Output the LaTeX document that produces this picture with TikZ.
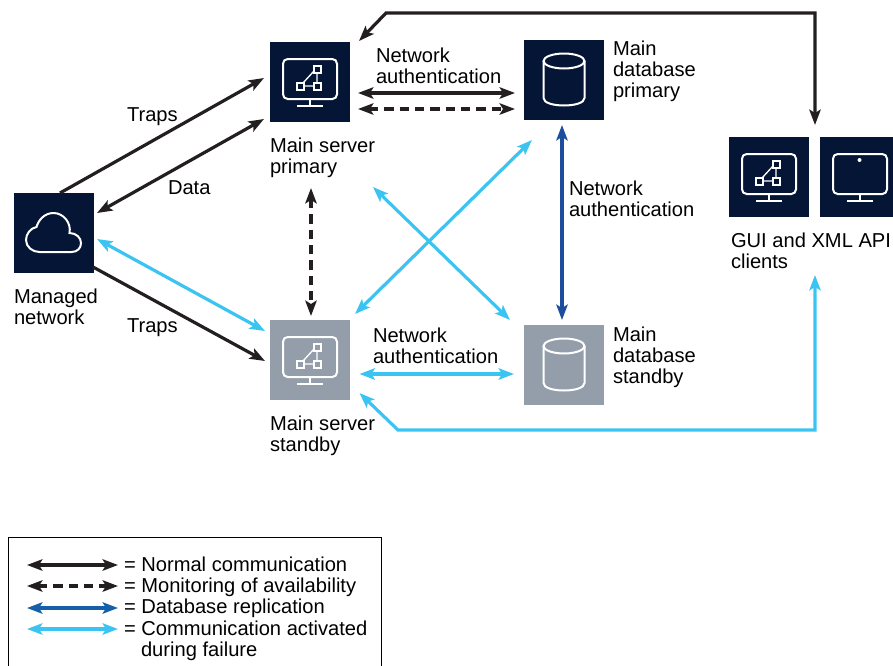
\documentclass[tikz,border=0pt]{standalone}
\usepackage{fontspec}
\setmainfont{Liberation Sans}
\usetikzlibrary{arrows.meta}
\definecolor{navy}{HTML}{051535}
\definecolor{slate}{HTML}{939EAA}
\definecolor{inkblack}{HTML}{231F20}
\definecolor{skyblue}{HTML}{3BC4F2}
\definecolor{deepblue}{HTML}{1D4E9E}
\definecolor{keyblue}{HTML}{1560A8}
\tikzset{
	box/.style={fill=navy, minimum size=60pt, inner sep=0pt, outer sep=0pt},
	boxgray/.style={box, fill=slate},
	lbl/.style={anchor=north west, inner sep=0pt, outer sep=0pt, align=left, text=black, font=\fontsize{15.1}{15.75}\selectfont},
	link/.style={line width=2.4pt, {Stealth[length=11.5pt,width=8.5pt,inset=2.5pt]}-{Stealth[length=11.5pt,width=8.5pt,inset=2.5pt]}},
	onelink/.style={line width=2.4pt, -{Stealth[length=11.5pt,width=8.5pt,inset=2.5pt]}},
	normal/.style={link, draw=inkblack},
	monitoring/.style={link, draw=inkblack, dash pattern=on 7pt off 4.5pt},
	replication/.style={link, draw=deepblue},
	failure/.style={link, draw=skyblue},
	icon/.style={draw=white, line width=1.5pt},
}
\def\monitor(#1){\begin{scope}[shift={(#1)}]
	\draw[icon, rounded corners=3.5pt] (-27,-23) rectangle (27,17);
	\draw[icon] (0,17) -- (0,24);
	\draw[icon] (-13,24) -- (13,24);
\end{scope}}
\def\graphglyph(#1){\begin{scope}[shift={(#1)}]
	\draw[icon, line width=1pt] (-6,4) -- (4,4) (-7,1) -- (4,-11) (7,1) -- (7,-9);
	\draw[icon] (-13,1) rectangle (-6,8);
	\draw[icon] (4,1) rectangle (11,8);
	\draw[icon] (4,-16) rectangle (11,-9);
\end{scope}}
\def\cylinder(#1){\begin{scope}[shift={(#1)}]
	\draw[icon] (-20.5,-19) -- (-20.5,18) .. controls (-20.5,28) and (20.5,28) .. (20.5,18) -- (20.5,-19);
	\draw[icon] (0,-19) ellipse (20.5 and 7.5);
\end{scope}}
\begin{document}
\begin{tikzpicture}[x=0.75pt, y=-0.75pt]
	%%%%% START %%%%%
	\useasboundingbox (0,0) rectangle (893,665);
	
	\node[box] (srvA) at (310,82) {};
	\node[box] (dbA) at (564,80) {};
	\node[box] (cloud) at (53.5,233) {};
	\node[boxgray] (srvB) at (310,360) {};
	\node[boxgray] (dbB) at (564,365) {};
	\node[box] (gui) at (769,177) {};
	\node[box, minimum width=54.75pt] (api) at (856.5,177) {};
	
	\monitor(310,82);
	\graphglyph(310,82);
	\monitor(310,360);
	\graphglyph(310,360);
	\monitor(769,177);
	\graphglyph(769,177);
	\monitor(860,177);
	\fill[white] (859.5,160) circle (2);
	\cylinder(564,80);
	\cylinder(564,365);
	\draw[icon] (39.5,252) -- (71.5,252) .. controls (77.5,252) and (81,248) .. (81,243) .. controls (81,238) and (76.5,233) .. (69.5,233) .. controls (71.5,223) and (63.5,213) .. (53.5,213) .. controls (44.5,213) and (38.5,220) .. (36.5,227) .. controls (30.5,228) and (26,234) .. (26,240) .. controls (26,247) and (32.5,252) .. (39.5,252) -- cycle;
	
	\node[lbl] (trapsA) at (127,108) {Traps};
	\node[lbl] (data) at (168,181) {Data};
	\node[lbl] (trapsB) at (127,319) {Traps};
	\node[lbl] (authA) at (376,48) {Network\\authentication};
	\node[lbl] (authB) at (373,328) {Network\\authentication};
	\node[lbl] (authC) at (569,181) {Network\\authentication};
	\node[lbl] (capSrvA) at (270,138) {Main server\\primary};
	\node[lbl] (capSrvB) at (270,416) {Main server\\standby};
	\node[lbl] (capDbA) at (613,41) {Main\\database\\primary};
	\node[lbl] (capDbB) at (613,327) {Main\\database\\standby};
	\node[lbl] (capCloud) at (14,289) {Managed\\network};
	\node[lbl] (capGui) at (731,233) {GUI and XML API\\clients};
	
	\draw[onelink, draw=inkblack] ([shift={(6.5,-40)}]cloud.center) -- ([shift={(-46,-4)}]srvA.center);
	\draw[normal] ([shift={(43.5,-20)}]cloud.center) -- ([shift={(-46,37)}]srvA.center);
	\draw[failure] ([shift={(43.5,6)}]cloud.center) -- ([shift={(-45,-29)}]srvB.center);
	\draw[onelink, draw=inkblack] ([shift={(39.5,34)}]cloud.center) -- ([shift={(-45,1)}]srvB.center);
	
	\draw[normal] ([shift={(48,11)}]srvA.center) -- ([shift={(-49,13)}]dbA.center);
	\draw[monitoring] ([shift={(48,27)}]srvA.center) -- ([shift={(-49,29)}]dbA.center);
	\draw[monitoring] ([shift={(1,66)}]srvA.south) -- ([shift={(1,-4)}]srvB.north);
	\draw[failure] ([shift={(49.5,14)}]srvB.center) -- ([shift={(-50,9)}]dbB.center);
	\draw[replication] ([shift={(-2,5)}]dbA.south) -- ([shift={(-2,-5)}]dbB.north);
	\draw[failure] ([shift={(45,-46)}]srvB.center) -- ([shift={(-32,60)}]dbA.center);
	\draw[failure] ([shift={(63,105)}]srvA.center) -- ([shift={(-54,-45)}]dbB.center);
	
	\coordinate (bendA) at (386,13);
	\coordinate (bendB) at (815,13);
	\coordinate (bendC) at (398,430);
	\coordinate (bendD) at (815,430);
	\draw[normal] ([shift={(49,-41)}]srvA.center) -- (bendA) -- (bendB) -- ([shift={(46,-52)}]gui.center);
	\draw[failure] ([shift={(49.5,33)}]srvB.center) -- (bendC) -- (bendD) -- ([shift={(46,98)}]gui.center);
	
	\draw[draw=black, line width=0.75pt] (8,667) -- (8,537) -- (381,537) -- (381,667);
	\coordinate (keyAa) at (27,565);
	\coordinate (keyAb) at (118,565);
	\coordinate (keyBa) at (27,586);
	\coordinate (keyBb) at (118,586);
	\coordinate (keyCa) at (27,608);
	\coordinate (keyCb) at (118,608);
	\coordinate (keyDa) at (27,629);
	\coordinate (keyDb) at (118,629);
	\draw[normal] (keyAa) -- (keyAb);
	\draw[monitoring] (keyBa) -- (keyBb);
	\draw[replication, draw=keyblue] (keyCa) -- (keyCb);
	\draw[failure] (keyDa) -- (keyDb);
	\node[lbl] (keyA) at (124,557) {= Normal communication};
	\node[lbl] (keyB) at (124,578) {= Monitoring of availability};
	\node[lbl] (keyC) at (124,599) {= Database replication};
	\node[lbl] (keyD) at (124,621) {= Communication activated};
	\node[lbl] (keyE) at (141,642) {during failure};
	%%%%% END %%%%%
\end{tikzpicture}
\end{document}
